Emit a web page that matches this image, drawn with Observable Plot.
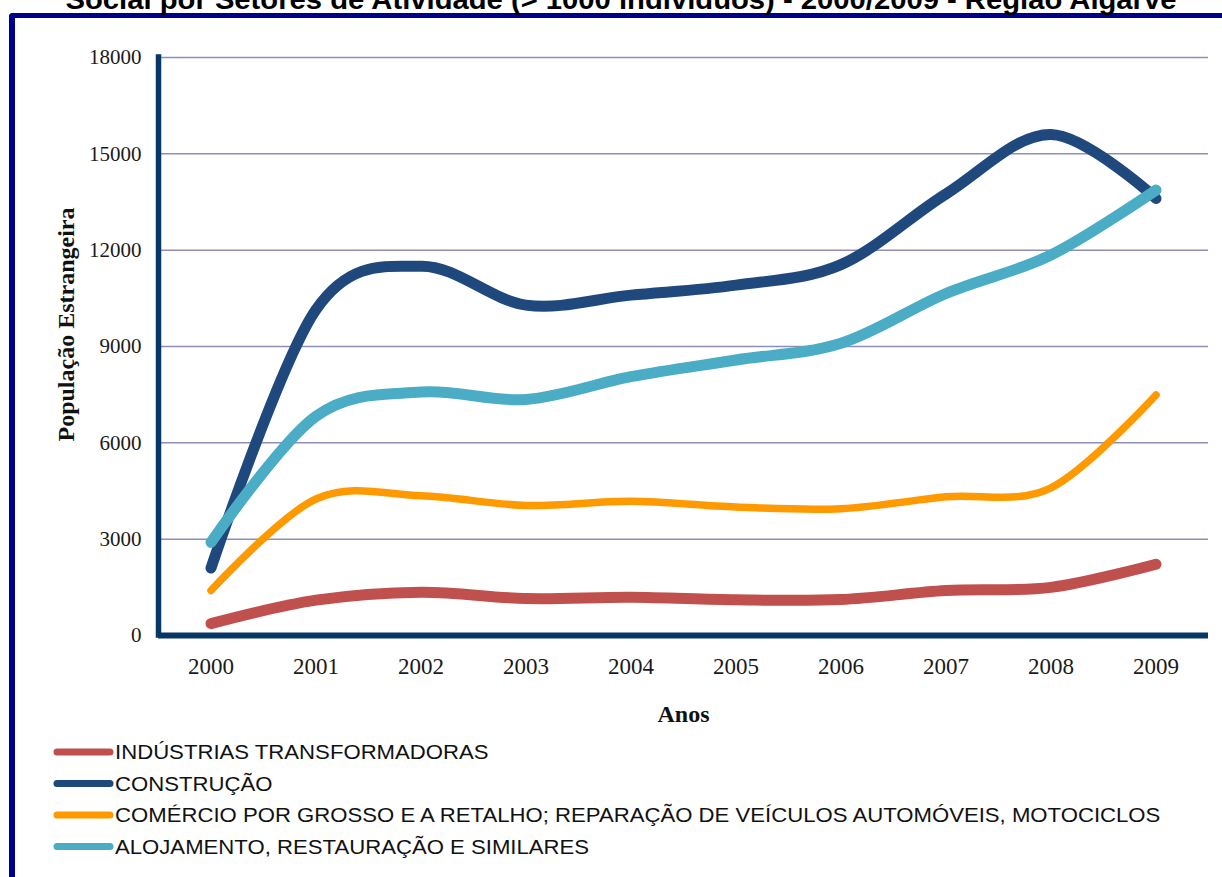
<!DOCTYPE html>
<html>
<head>
<meta charset="utf-8">
<script src="https://cdn.jsdelivr.net/npm/d3@7"></script>
<script src="https://cdn.jsdelivr.net/npm/@observablehq/plot@0.6"></script>
<style>
  html, body { margin: 0; padding: 0; background: #fff; }
  #page { position: relative; width: 1222px; height: 877px; overflow: hidden; background: #fff; }
  #frame { position: absolute; left: 9px; top: 13px; width: 1400px; height: 1000px;
           border-left: 6px solid #00008b; border-top: 5px solid #00008b; border-top-left-radius: 4px; }
  #chart { position: absolute; left: 0; top: 0; }
  #overlay { position: absolute; left: 0; top: 0; }
</style>
</head>
<body>
<div id="page">
  <div id="frame"></div>
  <div id="chart"></div>
  <svg id="overlay" width="1222" height="877"></svg>
</div>
<script>
// ---- data ----
const years = [2000, 2001, 2002, 2003, 2004, 2005, 2006, 2007, 2008, 2009];
const industrias = [370, 1100, 1350, 1150, 1190, 1110, 1120, 1400, 1500, 2220];
const construcao = [2100, 10150, 11500, 10290, 10600, 10910, 11550, 13750, 15600, 13610];
const comercio = [1400, 4250, 4350, 4050, 4180, 4000, 3950, 4320, 4600, 7490];
const alojamento = [2900, 6830, 7580, 7350, 8060, 8580, 9100, 10650, 11850, 13870];
const seriesNames = [
  "INDÚSTRIAS TRANSFORMADORAS",
  "CONSTRUÇÃO",
  "COMÉRCIO POR GROSSO E A RETALHO; REPARAÇÃO DE VEÍCULOS AUTOMÓVEIS, MOTOCICLOS",
  "ALOJAMENTO, RESTAURAÇÃO E SIMILARES"
];
const yTicks = [0, 3000, 6000, 9000, 12000, 15000, 18000];
const titleText = "Social por Setores de Atividade (> 1000 indivíduos) - 2000/2009 - Região Algarve";
const yLabel = "População Estrangeira";
const xLabel = "Anos";

// ---- styles ----
const colors = ["#c0504d", "#1f497d", "#ff9900", "#4bacc6"];
const widths = [11, 11, 7.5, 11];

const seriesValues = [industrias, construcao, comercio, alojamento];
const data = seriesValues.map((vals, i) =>
  years.map((yr, j) => ({year: yr, value: vals[j], serie: seriesNames[i]})));

const serif = "'Liberation Serif', 'Times New Roman', serif";
const axisColor = "#073767";

const chart = Plot.plot({
  width: 1222,
  height: 740,
  marginTop: 57,
  marginLeft: 158,
  marginRight: 14,
  marginBottom: 105,
  style: {fontFamily: serif, background: "transparent", color: "#1a1a1a", overflow: "visible"},
  x: {domain: [1999.5, 2009.5], label: null},
  y: {domain: [0, 18000], label: null},
  marks: [
    Plot.gridY(yTicks.slice(1), {stroke: "#8e8eb8", strokeOpacity: 1, strokeWidth: 1.5}),
    Plot.axisY({ticks: yTicks, tickSize: 0, tickPadding: 17, fontSize: 21, tickFormat: d => String(d), label: null}),
    Plot.axisX({ticks: years, tickSize: 0, tickPadding: 22, fontSize: 23, tickFormat: d => String(d), label: null}),
    ...data.map((d, i) => Plot.line(d, {
      x: "year", y: "value", stroke: colors[i], strokeWidth: widths[i],
      curve: "cardinal", strokeLinecap: "round", strokeLinejoin: "round"
    })),
    Plot.ruleX([1999.5], {y1: 0, y2: 18000, stroke: axisColor, strokeWidth: 5.5, strokeLinecap: "square"}),
    Plot.ruleY([0], {x1: 1999.5, x2: 2009.5, stroke: axisColor, strokeWidth: 6}),
    Plot.text([yLabel], {frameAnchor: "left", text: d => d, rotate: -90, dx: -92, dy: -22,
      textAnchor: "middle", lineAnchor: "middle",
      fontSize: 24, fontWeight: "bold", fill: "#111", fontFamily: serif}),
    Plot.text([xLabel], {frameAnchor: "bottom", text: d => d, dy: 86,
      textAnchor: "middle",
      fontSize: 24, fontWeight: "bold", fill: "#111", fontFamily: serif})
  ]
});
document.getElementById("chart").appendChild(chart);

// ---- title + legend overlay ----
const svg = d3.select("#overlay");
svg.append("text")
  .attr("x", 621).attr("y", 9)
  .attr("text-anchor", "middle")
  .attr("font-family", "'Liberation Sans', Arial, sans-serif")
  .attr("font-weight", "bold")
  .attr("font-size", 27)
  .attr("fill", "#000")
  .attr("textLength", 1111)
  .attr("lengthAdjust", "spacingAndGlyphs")
  .text(titleText);

const legend = svg.append("g");
seriesNames.forEach((name, i) => {
  const y = 752 + i * 31.5;
  legend.append("line")
    .attr("x1", 57).attr("x2", 110).attr("y1", y).attr("y2", y)
    .attr("stroke", colors[i]).attr("stroke-width", 7).attr("stroke-linecap", "round");
  legend.append("text")
    .attr("transform", `translate(115,${y}) scale(1.13,1)`)
    .attr("dy", "0.36em")
    .attr("font-family", "'Liberation Sans', Arial, sans-serif")
    .attr("font-size", 19.6)
    .attr("fill", "#111")
    .text(name);
});
</script>
</body>
</html>
